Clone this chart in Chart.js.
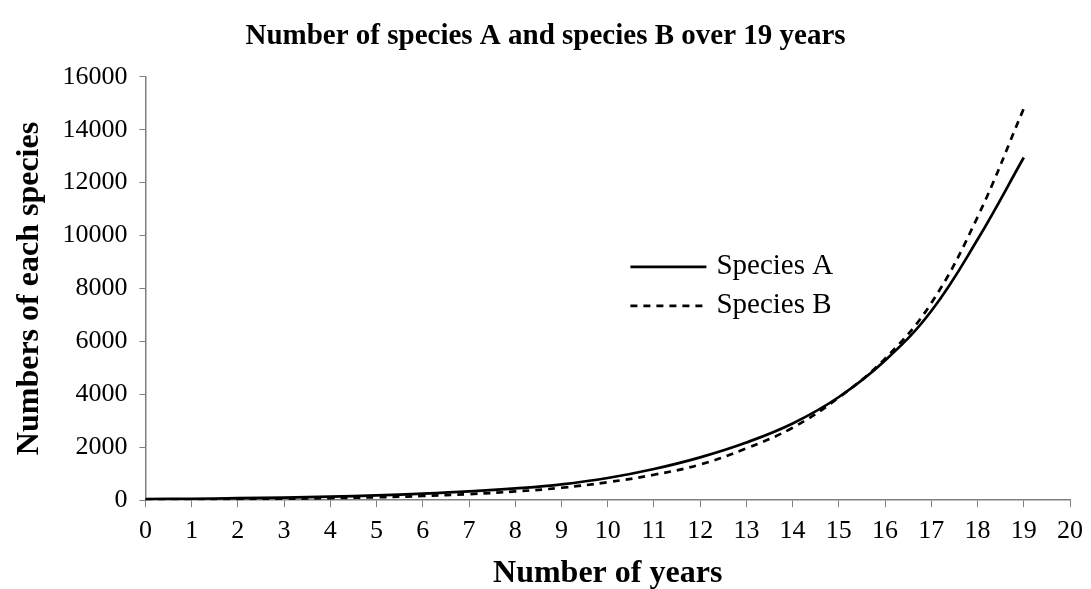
<!DOCTYPE html>
<html>
<head>
<meta charset="utf-8">
<script src="https://cdn.jsdelivr.net/npm/chart.js@4/dist/chart.umd.min.js"></script>
<style>
  html, body { margin: 0; padding: 0; background: #fff; }
  #wrap { width: 1091px; height: 589px; }
</style>
</head>
<body>
<div id="wrap"><canvas id="myChart" width="1091" height="589"></canvas></div>
<script>
const years = [0, 1, 2, 3, 4, 5, 6, 7, 8, 9, 10, 11, 12, 13, 14, 15, 16, 17, 18, 19];
const speciesA = [40, 55, 75, 100, 135, 180, 245, 330, 445, 600, 840, 1180, 1620, 2180, 2900, 3900, 5280, 7150, 9850, 12950];
const speciesB = [20, 30, 40, 55, 80, 110, 160, 230, 330, 470, 680, 960, 1350, 1960, 2740, 3880, 5350, 7450, 10700, 14800];
const seriesNames = ["Species A", "Species B"];

const serif = "'Liberation Serif', 'Times New Roman', serif";

// legend drawn inside the plot, like the original
const insideLegend = {
  id: "insideLegend",
  afterDraw(chart) {
    const ctx = chart.ctx;
    const area = chart.chartArea;
    const x0 = area.left + 485;
    const y0 = area.top + 190;
    ctx.save();
    chart.data.datasets.forEach((ds, i) => {
      const y = y0 + i * 39;
      ctx.strokeStyle = ds.borderColor;
      ctx.lineWidth = ds.borderWidth;
      ctx.setLineDash(ds.borderDash || []);
      ctx.beginPath();
      ctx.moveTo(x0, y);
      ctx.lineTo(x0 + 76, y);
      ctx.stroke();
      ctx.setLineDash([]);
      ctx.fillStyle = "#000";
      ctx.font = "29px " + serif;
      ctx.textBaseline = "middle";
      ctx.fillText(ds.label, x0 + 86, y);
    });
    ctx.restore();
  },
};

const config = {
  type: "line",
  data: {
    datasets: [
      {
        label: seriesNames[0],
        data: years.map((x, i) => ({ x: x, y: speciesA[i] })),
        borderColor: "#000",
        borderWidth: 2.7,
        pointRadius: 0,
        tension: 0.4,
        fill: false,
      },
      {
        label: seriesNames[1],
        data: years.map((x, i) => ({ x: x, y: speciesB[i] })),
        borderColor: "#000",
        borderWidth: 2.7,
        borderDash: [7, 6],
        pointRadius: 0,
        tension: 0.4,
        fill: false,
      },
    ],
  },
  options: {
    responsive: false,
    animation: false,
    layout: { padding: { left: 0, right: 0, top: 0, bottom: 0 } },
    plugins: {
      legend: { display: false },
      tooltip: { enabled: false },
      title: {
        display: true,
        text: "Number of species A and species B over 19 years",
        color: "#000",
        font: { family: serif, size: 29, weight: "bold" },
        padding: { top: 19, bottom: 23 },
      },
    },
    scales: {
      x: {
        type: "linear",
        min: 0,
        max: 20,
        afterFit: (scale) => { scale.paddingRight = 21; },
        ticks: {
          stepSize: 1,
          color: "#000",
          font: { family: serif, size: 26 },
          padding: 8,
          maxRotation: 0,
          callback: (v) => String(v),
        },
        grid: { drawOnChartArea: false, color: "#808080", tickLength: 7 },
        border: { color: "#808080", width: 1.5 },
        title: {
          display: true,
          text: "Number of years",
          color: "#000",
          font: { family: serif, size: 32, weight: "bold", lineHeight: 0.8 },
          padding: { top: 7, bottom: 2 },
        },
      },
      y: {
        min: 0,
        max: 16000,
        ticks: {
          stepSize: 2000,
          color: "#000",
          font: { family: serif, size: 26 },
          padding: 12,
          callback: (v) => String(v),
        },
        grid: { drawOnChartArea: false, color: "#808080", tickLength: 6 },
        border: { color: "#808080", width: 1.5 },
        title: {
          display: true,
          text: "Numbers of each species",
          color: "#000",
          font: { family: serif, size: 32, weight: "bold" },
          padding: { top: 11, bottom: 1 },
        },
      },
    },
  },
  plugins: [insideLegend],
};
const myChart = new Chart(document.getElementById("myChart"), config);
</script>
</body>
</html>
